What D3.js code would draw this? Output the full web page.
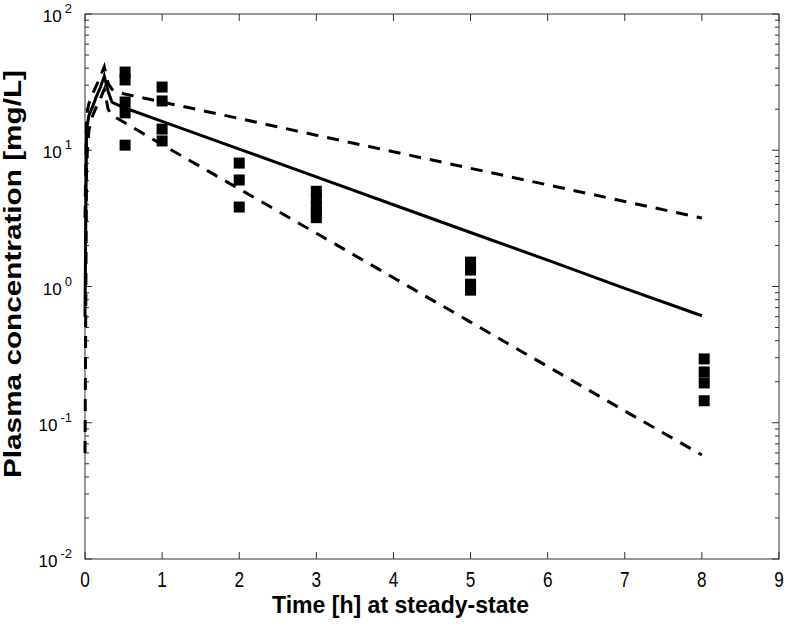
<!DOCTYPE html>
<html><head><meta charset="utf-8">
<script src="https://cdn.jsdelivr.net/npm/d3@7"></script>
<style>body{margin:0;background:#fff}svg{display:block}</style>
</head><body>
<svg id="chart" width="786" height="624"></svg>
<script>
// ---- data ----
const modelTime = [0, 0.02, 0.05, 0.1, 0.15, 0.2, 0.25, 0.3, 0.35, 0.5, 1, 2, 3, 4, 5, 6, 7, 8];
const medianConc = [0.6, 14, 18, 21, 25, 29, 35, 27, 22.5, 20.6, 16.3, 10.2, 6.37, 3.98, 2.49, 1.56, 0.97, 0.61];
const upperConc  = [3.2, 18, 22, 26, 30, 35, 41, 31, 28, 26, 22.6, 17.1, 12.9, 9.75, 7.37, 5.57, 4.21, 3.18];
const lowerConc  = [0.06, 8, 14, 18, 21, 24, 28, 20, 18, 16.1, 11.0, 5.2, 2.46, 1.16, 0.548, 0.259, 0.122, 0.058];

const obsTime = [0.52,0.52,0.52,0.52,0.52, 1,1,1,1, 2,2,2, 3,3,3,3,3, 5,5,5,5, 8.03,8.03,8.03,8.03];
const obsConc = [37.5,32.8,22.6,18.8,10.9, 29.1,23,14.3,11.7, 8.05,6.05,3.83, 5.0,4.4,3.9,3.5,3.2, 1.51,1.32,1.04,0.94, 0.294,0.236,0.196,0.145];

const xTicks = [0,1,2,3,4,5,6,7,8,9];
const yTicks = [1e-2,1e-1,1,10,100];
const yExps = ["-2","-1","0","1","2"];

// ---- layout ----
const svg = d3.select("#chart");
const L = 85, R = 779, T = 14, B = 559;
const x = d3.scaleLinear().domain([0, 9]).range([L, R]);
const y = d3.scaleLog().domain([0.01, 100]).range([B, T]);
const frame = "#333";
const font = "Liberation Sans, Arial, sans-serif";

const minor = [];
for (let e = -2; e < 2; e++) for (let m = 2; m <= 9; m++) minor.push(m * Math.pow(10, e));

const g = svg.append("g");
g.append("rect").attr("x", L).attr("y", T).attr("width", R - L).attr("height", B - T)
  .attr("fill", "none").attr("stroke", frame).attr("stroke-width", 1);

xTicks.forEach(v => {
  g.append("line").attr("x1", x(v)).attr("x2", x(v)).attr("y1", B).attr("y2", B - 7).attr("stroke", frame);
  g.append("line").attr("x1", x(v)).attr("x2", x(v)).attr("y1", T).attr("y2", T + 7).attr("stroke", frame);
  g.append("text").attr("x", x(v)).attr("y", 587).attr("text-anchor", "middle")
    .attr("font-family", font).attr("font-size", 22)
    .attr("transform", `translate(${x(v)},0) scale(0.78,1) translate(${-x(v)},0)`)
    .text(v);
});
yTicks.forEach((v, i) => {
  g.append("line").attr("x1", L).attr("x2", L + 7).attr("y1", y(v)).attr("y2", y(v)).attr("stroke", frame);
  g.append("line").attr("x1", R).attr("x2", R - 7).attr("y1", y(v)).attr("y2", y(v)).attr("stroke", frame);
  const t = g.append("text").attr("x", 72).attr("y", y(v) + 8).attr("text-anchor", "end")
    .attr("font-family", font).attr("font-size", 17);
  t.append("tspan").text("10");
  t.append("tspan").attr("dx", 3).attr("dy", -9).attr("font-size", 13).text(yExps[i]);
});
minor.forEach(v => {
  g.append("line").attr("x1", L).attr("x2", L + 4).attr("y1", y(v)).attr("y2", y(v)).attr("stroke", frame);
  g.append("line").attr("x1", R).attr("x2", R - 4).attr("y1", y(v)).attr("y2", y(v)).attr("stroke", frame);
});

// axis titles
g.append("text").attr("x", 272).attr("y", 613)
  .attr("font-family", font).attr("font-weight", "bold").attr("font-size", 23)
  .attr("textLength", 257).attr("lengthAdjust", "spacingAndGlyphs")
  .text("Time [h] at steady-state");
g.append("text").attr("transform", "translate(21,478) rotate(-90)")
  .attr("font-family", font).attr("font-weight", "bold").attr("font-size", 23)
  .attr("textLength", 408).attr("lengthAdjust", "spacingAndGlyphs")
  .text("Plasma concentration [mg/L]");

// model lines
const line = d3.line().x(d => x(d[0])).y(d => y(d[1]));
const mk = arr => modelTime.map((t, i) => [t, arr[i]]);
g.append("path").attr("d", line(mk(medianConc))).attr("fill", "none").attr("stroke", "#000").attr("stroke-width", 3);
[upperConc, lowerConc].forEach(arr => {
  g.append("path").attr("d", line(mk(arr))).attr("fill", "none").attr("stroke", "#000")
    .attr("stroke-width", 3).attr("stroke-dasharray", "12,9");
});

// observations
const s = 11;
g.selectAll("rect.obs").data(obsTime.map((t, i) => [t, obsConc[i]])).enter().append("rect")
  .attr("class", "obs").attr("x", d => x(d[0]) - s / 2).attr("y", d => y(d[1]) - s / 2)
  .attr("width", s).attr("height", s).attr("fill", "#000");
</script>
</body></html>
